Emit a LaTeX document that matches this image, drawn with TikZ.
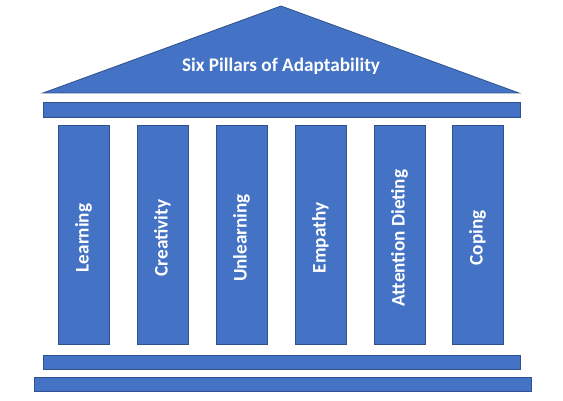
\documentclass[tikz,border=0pt]{standalone}
\usepackage{fontspec}
\setmainfont{Carlito}
\definecolor{pfill}{HTML}{4472C4}
\definecolor{pline}{HTML}{2F528F}
\begin{document}
\begin{tikzpicture}[x=1pt,y=-1pt,
  part/.style={fill=pfill,draw=pline,line width=0.8pt},
  lbl/.style={text=white,font=\bfseries\fontsize{19.2}{22}\selectfont,inner sep=0pt}]
\useasboundingbox (0,0) rectangle (563,401);
\filldraw[part] (43,93) -- (281,6) -- (519,93) -- cycle;
\node[lbl] (title) at (281,66) {Six Pillars of Adaptability};
\draw[part] (43,102) rectangle (520,117);
\foreach \x/\t [count=\i] in {58/Learning,137/Creativity,216/Unlearning,295/Empathy,374/Attention Dieting,452/Coping}{
  \draw[part] (\x,125) rectangle ++(51,219);
  \node[lbl,rotate=90] (p\i) at (\x+25.5,238) {\t};
}
\draw[part] (43,355) rectangle (520,369);
\draw[part] (34,377) rectangle (531,391);
\end{tikzpicture}
\end{document}
